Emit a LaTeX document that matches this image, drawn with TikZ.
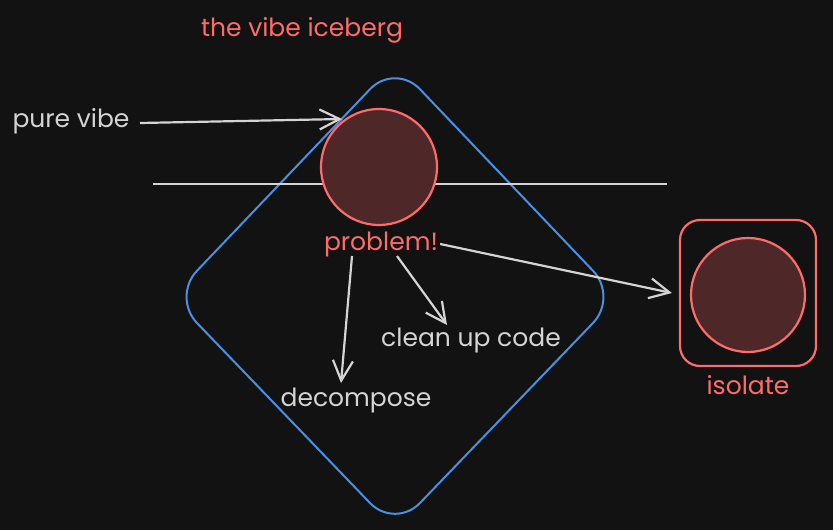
\documentclass[tikz,border=0pt]{standalone}
\usepackage{fontspec}
\setmainfont{Poppins}
\usetikzlibrary{arrows.meta,shapes.geometric}
\definecolor{bg}{HTML}{121212}
\definecolor{redc}{HTML}{FF6B6B}
\definecolor{fillr}{HTML}{4E2828}
\definecolor{grayc}{HTML}{D4D4D4}
\definecolor{bluec}{HTML}{4A90E2}
\tikzset{
  lbl/.style={text=grayc, font=\fontsize{25}{28}\selectfont, inner sep=0pt},
  rlbl/.style={text=redc, font=\fontsize{25}{28}\selectfont, inner sep=0pt},
  arr/.style={draw=grayc, line width=2.2pt, -{Straight Barb[length=20pt,width=20pt]}},
  ball/.style={circle, draw=redc, fill=fillr, line width=2.2pt, inner sep=0pt},
}
\begin{document}
\begin{tikzpicture}[x=1pt,y=-1pt]
\fill[bg] (0,0) rectangle (833,530);
\useasboundingbox (0,0) rectangle (833,530);
% diamond
\draw[bluec, line width=2pt, rounded corners=36pt] (395,63) -- (618,297) -- (395,529) -- (172,297) -- cycle;
% water line
\coordinate (wl1) at (153,184);
\coordinate (wl2) at (667,184);
\draw[grayc, line width=2.2pt] (wl1) -- (wl2);
% main ball
\node[ball, minimum size=116pt] (ball) at (379,167) {};
% title
\node[rlbl] (title) at (302,30) {the vibe iceberg};
\node[lbl] (pure) at (71,121) {pure vibe};
\node[rlbl] (problem) at (381,244) {problem!};
\node[lbl] (clean) at (471,340) {clean up code};
\node[lbl] (decomp) at (356,400) {decompose};
% isolate
\node[draw=redc, line width=2.2pt, rounded corners=20pt, minimum width=136pt, minimum height=146pt] (box) at (748,293) {};
\node[ball, minimum size=114pt] (ball2) at (748,295) {};
\node[rlbl] (iso) at (748,385) {isolate};
% arrows
\coordinate (a1) at (140,123);
\coordinate (a1e) at (342,119);
\draw[arr] (a1) -- (a1e);
\draw[arr] ([xshift=2pt]problem.east) -- ([xshift=-7pt]box.west);
\draw[arr] (352,256) -- (341,383);
\draw[arr] (397,256) -- (447,325);
\end{tikzpicture}
\end{document}
